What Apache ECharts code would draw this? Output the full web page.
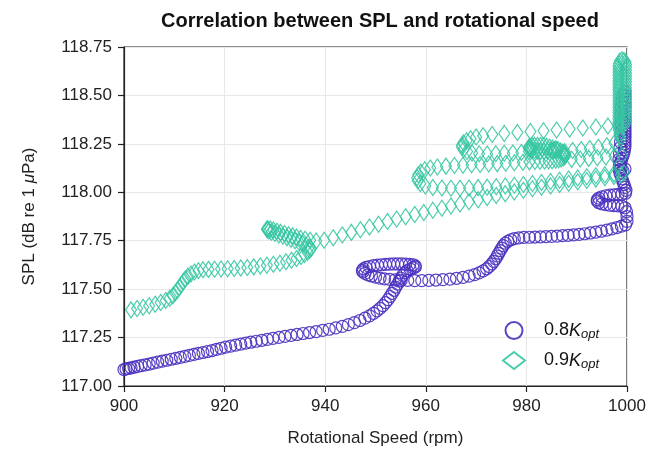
<!DOCTYPE html>
<html>
<head>
<meta charset="utf-8">
<script src="https://cdn.jsdelivr.net/npm/echarts@6/dist/echarts.min.js"></script>
<style>
html,body{margin:0;padding:0;background:#fff;}
#chart{width:666px;height:457px;}
</style>
</head>
<body>
<div id="chart"></div>
<script>
const seriesNames = ['0.8', '0.9'];
const xTicks = [900, 920, 940, 960, 980, 1000];
const yTicks = [117.00, 117.25, 117.50, 117.75, 118.00, 118.25, 118.50, 118.75];

// 0.8 Kopt (circles)
const spl08 = [
[900.0,117.085],[900.4,117.088],[900.9,117.091],[901.4,117.094],[902.0,117.097],[902.7,117.101],[903.4,117.105],[904.2,117.109],[905.0,117.113],[905.8,117.118],
[906.7,117.123],[907.6,117.128],[908.5,117.133],[909.4,117.138],[910.3,117.143],[911.2,117.148],[912.1,117.153],[913.0,117.158],[913.9,117.163],[914.8,117.168],
[915.7,117.173],[916.6,117.178],[917.5,117.183],[918.4,117.189],[919.3,117.195],[920.2,117.201],[921.2,117.206],[922.2,117.211],[923.2,117.216],[924.2,117.221],
[925.2,117.226],[926.3,117.231],[927.4,117.236],[928.5,117.241],[929.6,117.246],[930.8,117.251],[932.0,117.256],[933.2,117.261],[934.4,117.266],[935.6,117.271],
[936.9,117.276],[938.2,117.281],[939.5,117.287],[940.8,117.293],[942.1,117.300],[943.4,117.308],[944.6,117.317],[945.8,117.327],[946.9,117.338],[947.9,117.350],
[948.8,117.362],[949.6,117.375],[950.3,117.388],[950.9,117.401],[951.5,117.415],[952.0,117.430],[952.5,117.446],[952.9,117.462],[953.3,117.478],[953.7,117.494],
[954.0,117.510],[954.4,117.526],[954.7,117.542],[955.0,117.557],[955.4,117.571],[955.8,117.584],[956.3,117.595],[956.9,117.604],[957.5,117.610],[957.9,117.614],
[957.9,117.620],[957.5,117.626],[956.8,117.628],[956.0,117.629],[955.2,117.630],[954.4,117.630],[953.6,117.630],[952.8,117.629],[952.0,117.628],[951.2,117.626],
[950.4,117.624],[949.6,117.621],[948.8,117.617],[948.1,117.612],[947.6,117.605],[947.4,117.597],[947.5,117.589],[947.9,117.581],[948.5,117.574],[949.2,117.568],
[950.0,117.562],[950.9,117.557],[951.8,117.553],[952.8,117.550],[953.9,117.548],[955.1,117.546],[956.4,117.545],[957.8,117.544],[959.2,117.544],[960.6,117.545],
[962.0,117.547],[963.4,117.549],[964.8,117.552],[966.1,117.556],[967.4,117.561],[968.6,117.567],[969.7,117.575],[970.6,117.584],[971.4,117.594],[972.1,117.605],
[972.6,117.617],[973.1,117.630],[973.5,117.643],[973.9,117.657],[974.2,117.671],[974.5,117.685],[974.8,117.699],[975.1,117.712],[975.4,117.725],[975.8,117.737],
[976.3,117.747],[976.9,117.755],[977.6,117.761],[978.5,117.765],[979.5,117.767],[980.6,117.768],[981.7,117.769],[982.8,117.770],[983.9,117.771],[985.0,117.772],
[986.1,117.774],[987.2,117.776],[988.3,117.778],[989.4,117.780],[990.5,117.783],[991.6,117.786],[992.7,117.790],[993.8,117.794],[994.9,117.799],[996.0,117.805],
[997.0,117.811],[998.0,117.818],[998.9,117.825],[999.7,117.832],[1000.0,117.850],[1000.0,117.875],[999.9,117.900],[999.6,117.920],[999.0,117.928],[998.2,117.930],
[997.4,117.931],[996.6,117.933],[995.8,117.936],[995.0,117.940],[994.4,117.946],[994.1,117.954],[994.1,117.962],[994.4,117.970],[995.0,117.977],[995.8,117.982],
[996.6,117.985],[997.4,117.987],[998.2,117.989],[999.0,117.991],[999.7,117.995],[999.8,118.010],[999.6,118.025],[999.4,118.040],[999.2,118.055],[999.0,118.070],
[998.8,118.085],[998.6,118.100],[998.5,118.115],[998.5,118.130],[998.6,118.145],[998.8,118.160],[999.0,118.175],[999.2,118.190],[999.4,118.205],[999.5,118.220],
[999.6,118.235],[999.6,118.250],[999.6,118.265],[999.6,118.280],[999.6,118.295],[999.6,118.310],[999.6,118.325],[999.6,118.340],[999.6,118.355],[999.6,118.370],
[999.6,118.385],[999.6,118.400],[999.6,118.420],[999.6,118.440],[999.6,118.460],[999.6,118.480],[999.6,118.500],[999.6,118.520],[999.2,118.500],[999.0,118.470],
[998.9,118.440],[998.9,118.410],[998.9,118.380],[998.9,118.350],[998.9,118.320],[998.8,118.290],[998.7,118.260],[998.6,118.230],[998.5,118.200],[998.4,118.170],
[998.5,118.140],[998.8,118.120],[999.2,118.110],[999.6,118.120]
];

// 0.9 Kopt (diamonds)
const spl09 = [
[901.4,117.393],[902.6,117.400],[903.8,117.407],[905.0,117.414],[906.2,117.422],[907.3,117.431],[908.3,117.441],[909.1,117.453],[909.7,117.466],[910.2,117.480],
[910.6,117.494],[911.0,117.509],[911.4,117.524],[911.8,117.539],[912.2,117.553],[912.7,117.566],[913.3,117.578],[914.0,117.588],[914.8,117.595],[915.7,117.600],
[916.8,117.602],[918.0,117.603],[919.3,117.604],[920.6,117.605],[921.9,117.607],[923.2,117.609],[924.5,117.612],[925.8,117.615],[927.1,117.619],[928.4,117.623],
[929.7,117.628],[931.0,117.634],[932.2,117.641],[933.3,117.649],[934.3,117.658],[935.2,117.668],[935.9,117.679],[936.5,117.690],[936.9,117.700],[937.2,117.710],
[936.8,117.718],[936.2,117.726],[935.5,117.734],[934.8,117.742],[934.0,117.750],[933.2,117.758],[932.4,117.766],[931.6,117.773],[930.8,117.780],[930.0,117.787],
[929.3,117.794],[928.8,117.800],[928.5,117.806],[928.4,117.810],[928.6,117.812],[929.1,117.810],[929.7,117.805],[930.4,117.799],[931.1,117.793],[931.9,117.787],
[932.7,117.781],[933.5,117.775],[934.3,117.769],[935.1,117.763],[936.0,117.757],[937.0,117.752],[938.2,117.749],
[939.8,117.752],[941.6,117.765],[943.4,117.779],[945.2,117.793],[947.0,117.807],[948.8,117.821],[950.6,117.835],[952.4,117.849],[954.2,117.862],[956.0,117.874],
[957.8,117.885],[959.6,117.896],[961.4,117.907],[963.2,117.918],[965.0,117.929],[966.8,117.940],[968.6,117.951],[970.4,117.962],[972.2,117.973],[974.0,117.983],
[975.8,117.993],[977.6,118.002],[979.4,118.010],[981.2,118.018],[983.0,118.026],[984.8,118.033],[986.6,118.040],[988.4,118.047],[990.2,118.054],[992.0,118.061],
[993.8,118.068],[995.6,118.075],[997.4,118.082],[998.8,118.090],[999.4,118.100],
[997.4,118.095],[995.6,118.090],[993.8,118.085],[992.0,118.080],[990.2,118.074],[988.4,118.068],[986.6,118.062],[984.8,118.056],[983.0,118.050],[981.2,118.045],
[979.4,118.040],[977.6,118.036],[975.8,118.032],[974.0,118.029],[972.2,118.026],[970.4,118.024],[968.6,118.022],[966.8,118.021],[965.0,118.021],[963.2,118.022],
[961.4,118.025],[959.9,118.032],[958.9,118.045],[958.4,118.060],[958.3,118.075],[958.5,118.090],[959.0,118.104],[959.8,118.116],[960.9,118.125],[962.3,118.131],
[964.0,118.135],[965.7,118.138],[967.4,118.140],[969.1,118.142],[970.8,118.144],[972.5,118.146],[974.2,118.148],[975.9,118.150],[977.6,118.152],[979.3,118.155],
[980.6,118.157],[981.7,118.159],[982.7,118.160],[983.6,118.161],[984.4,118.162],[985.1,118.163],[985.8,118.165],[986.4,118.168],[986.9,118.172],[987.3,118.177],
[987.6,118.183],[987.7,118.189],[987.7,118.195],[987.5,118.201],[987.2,118.207],[986.8,118.213],[986.3,118.219],[985.8,118.224],[985.2,118.229],[984.6,118.233],
[984.0,118.237],[983.4,118.240],[982.8,118.242],[982.2,118.243],[981.6,118.243],[981.1,118.241],[980.7,118.237],[980.5,118.232],[980.5,118.226],[980.7,118.221],
[981.1,118.217],[981.6,118.214],[982.2,118.212],[982.8,118.211],[983.5,118.211],[984.2,118.212],[984.9,118.214],[985.5,118.217],[986.0,118.221],[985.2,118.215],
[980.5,118.210],[979.0,118.205],[977.3,118.203],[975.6,118.201],[973.9,118.199],[972.2,118.198],[970.6,118.199],[969.2,118.203],[968.2,118.211],[967.5,118.221],
[967.2,118.232],[967.2,118.244],[967.5,118.255],[968.1,118.266],[968.9,118.276],[970.0,118.285],[971.4,118.292],[973.2,118.298],[975.6,118.304],[978.2,118.309],
[980.8,118.314],[983.4,118.318],[986.0,118.322],[988.6,118.327],[991.2,118.332],[993.8,118.337],[996.2,118.342],[998.2,118.348],[999.2,118.353],
[999.8,118.360],[999.8,118.375],[999.8,118.390],[999.8,118.405],[999.8,118.420],[999.8,118.435],[999.8,118.450],[999.8,118.465],[999.8,118.480],[999.8,118.495],
[999.8,118.510],[999.8,118.525],[999.8,118.540],[999.8,118.555],[999.8,118.570],[999.8,118.585],[999.8,118.600],[999.8,118.615],[999.8,118.630],[999.8,118.645],
[999.8,118.660],[999.7,118.672],[999.4,118.680],[999.0,118.684],[998.6,118.678],[998.4,118.665],[998.3,118.650],[998.3,118.635],[998.3,118.620],[998.3,118.605],
[998.3,118.590],[998.3,118.575],[998.3,118.560],[998.3,118.545],[998.3,118.530],[998.3,118.515],[998.3,118.500],[998.3,118.485],[998.3,118.470],[998.3,118.455],
[998.3,118.440],[998.3,118.425],[998.3,118.410],[998.3,118.395],[998.3,118.380],[998.3,118.365],[998.3,118.350],[998.3,118.335],[998.4,118.320],[998.5,118.305],
[998.6,118.290],[998.7,118.275],[997.5,118.255],[996.0,118.240],[994.3,118.232],[992.6,118.226],[990.9,118.221],[989.2,118.216],[987.6,118.210],
[989.0,118.170],[990.7,118.172],[992.4,118.175],[994.1,118.178],[995.8,118.182],[997.5,118.186],[999.0,118.190]
];

const purple = '#4a30c0';
const teal = '#36c7a2';
const FONT = 'Liberation Sans, Arial, sans-serif';

const chart = echarts.init(document.getElementById('chart'), null, {renderer: 'canvas'});
chart.setOption({
  animation: false,
  backgroundColor: '#fff',
  title: {
    text: 'Correlation between SPL and rotational speed',
    left: 375, top: 6, textAlign: 'center',
    textStyle: {fontFamily: FONT, fontSize: 20, fontWeight: 'bold', color: '#111'}
  },
  grid: {left: 124, right: 39, top: 47, bottom: 71, show: true, borderColor: '#222', borderWidth: 1.2, backgroundColor: 'transparent'},
  legend: {
    orient: 'vertical', left: 497, top: 316, itemGap: 10, itemWidth: 22, itemHeight: 17,
    data: ['0.8', '0.9'],
    formatter: n => '{a|' + n + '}{k|K}{s|opt}',
    textStyle: {
      fontFamily: FONT, fontSize: 18, color: '#111', padding: [0, 0, 0, 14],
      rich: {
        a: {fontFamily: FONT, fontSize: 18, color: '#111'},
        k: {fontFamily: FONT, fontSize: 18, fontStyle: 'italic', color: '#111'},
        s: {fontFamily: FONT, fontSize: 13, fontStyle: 'italic', color: '#111', padding: [8, 0, 0, 0]}
      }
    }
  },
  xAxis: {
    type: 'value', min: xTicks[0], max: xTicks[xTicks.length - 1], interval: 20,
    name: 'Rotational Speed (rpm)', nameLocation: 'middle', nameGap: 44,
    nameTextStyle: {fontFamily: FONT, fontSize: 17, color: '#222'},
    axisLine: {show: true, onZero: false, lineStyle: {color: '#222', width: 1.2}},
    axisTick: {show: true, inside: false, length: 6, lineStyle: {color: '#222', width: 1.2}},
    axisLabel: {fontFamily: FONT, fontSize: 17, color: '#222', margin: 12, formatter: v => String(Math.round(v))},
    splitLine: {show: true, lineStyle: {color: '#e8e8e8', width: 1}}
  },
  yAxis: {
    type: 'value', min: yTicks[0], max: yTicks[yTicks.length - 1], interval: 0.25,
    name: 'SPL (dB re 1 {i|μ}Pa)', nameLocation: 'middle', nameGap: 86,
    nameTextStyle: {fontFamily: FONT, fontSize: 17, color: '#222', rich: {i: {fontFamily: FONT, fontSize: 17, fontStyle: 'italic', color: '#222'}}},
    axisLine: {show: true, onZero: false, lineStyle: {color: '#222', width: 1.2}},
    axisTick: {show: true, inside: false, length: 6, lineStyle: {color: '#222', width: 1.2}},
    axisLabel: {fontFamily: FONT, fontSize: 17, color: '#222', margin: 12, formatter: v => v.toFixed(2)},
    splitLine: {show: true, lineStyle: {color: '#e8e8e8', width: 1}}
  },
  series: [
    {
      name: seriesNames[0], type: 'scatter', data: spl08, symbol: 'circle', symbolSize: 12,
      itemStyle: {color: 'rgba(255,255,255,0)', borderColor: purple, borderWidth: 1.2, opacity: 0.9},
      clip: true
    },
    {
      name: seriesNames[1], type: 'scatter', data: spl09, symbol: 'diamond', symbolSize: [11, 16],
      itemStyle: {color: 'rgba(255,255,255,0)', borderColor: teal, borderWidth: 1.2, opacity: 0.9},
      clip: true
    }
  ]
});
</script>
</body>
</html>
